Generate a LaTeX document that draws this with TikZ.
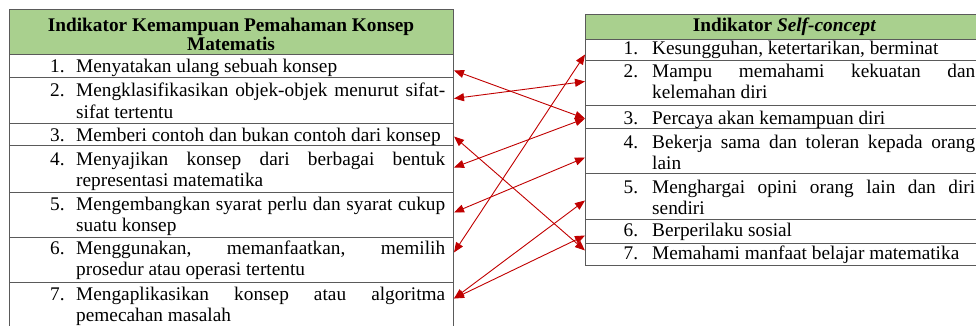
\documentclass[tikz,border=0pt]{standalone}
\usepackage{fontspec}
\setmainfont{Liberation Serif}
\usetikzlibrary{arrows.meta}
\definecolor{hdrgreen}{HTML}{A9D08E}
\definecolor{arrred}{HTML}{C00000}
\definecolor{gridgray}{HTML}{5A5A5A}
\newcommand{\fullln}[1]{\makebox[\linewidth][s]{#1}}
\newcommand{\lastln}[1]{\makebox[\linewidth][l]{#1}}
\tikzset{
  cell/.style={draw=gridgray, line width=1pt, inner sep=0pt, anchor=north west},
  hdrcell/.style={cell, fill=hdrgreen},
  txt/.style={inner sep=0pt, anchor=base west, font=\fontsize{19.3}{21.5}\selectfont},
  hdrtxt/.style={inner sep=0pt, anchor=base, font=\fontsize{19.3}{18.4}\selectfont\bfseries},
  link/.style={draw=arrred, line width=0.9pt,
    {Triangle[length=10pt,width=8pt]}-{Triangle[length=10pt,width=8pt]}},
}
\newcommand{\litem}[2]{\llap{#1.\hspace{11.5pt}}\parbox[t]{369pt}{#2}}
\newcommand{\ritem}[2]{\llap{#1.\hspace{14pt}}\parbox[t]{323pt}{#2}}
\begin{document}
\begin{tikzpicture}[x=1pt,y=-1pt]
\useasboundingbox (0,0) rectangle (976,326);
% left table cells
\node[hdrcell, minimum width=444, minimum height=45] (lh) at (9,9) {};
\node[cell, minimum width=444, minimum height=23] (l1) at (9,54) {};
\node[cell, minimum width=444, minimum height=46] (l2) at (9,77) {};
\node[cell, minimum width=444, minimum height=22] (l3) at (9,123) {};
\node[cell, minimum width=444, minimum height=47] (l4) at (9,145) {};
\node[cell, minimum width=444, minimum height=45] (l5) at (9,192) {};
\node[cell, minimum width=444, minimum height=45] (l6) at (9,237) {};
\node[cell, minimum width=444, minimum height=50] (l7) at (9,282) {};
% right table cells
\node[hdrcell, minimum width=399, minimum height=25] (rh) at (585,14) {};
\node[cell, minimum width=399, minimum height=21] (r1) at (585,39) {};
\node[cell, minimum width=399, minimum height=45] (r2) at (585,60) {};
\node[cell, minimum width=399, minimum height=23] (r3) at (585,105) {};
\node[cell, minimum width=399, minimum height=45] (r4) at (585,128) {};
\node[cell, minimum width=399, minimum height=46] (r5) at (585,173) {};
\node[cell, minimum width=399, minimum height=24] (r6) at (585,219) {};
\node[cell, minimum width=399, minimum height=22] (r7) at (585,243) {};
% headers
\node[hdrtxt] (lht) at (231,31.7) {\parbox[t]{440pt}{\centering Indikator Kemampuan Pemahaman Konsep\\Matematis}};
\node[hdrtxt] (rht) at (784.5,31.7) {Indikator \textit{Self-concept}};
% left texts
\node[txt] (l1t) at (76,73) {\litem{1}{\lastln{Menyatakan ulang sebuah konsep}}};
\node[txt] (l2t) at (76,96.7) {\litem{2}{\fullln{Mengklasifikasikan objek-objek menurut sifat-}\\\lastln{sifat tertentu}}};
\node[txt] (l3t) at (76,141.7) {\litem{3}{\lastln{Memberi contoh dan bukan contoh dari konsep}}};
\node[txt] (l4t) at (76,165) {\litem{4}{\fullln{Menyajikan konsep dari berbagai bentuk}\\\lastln{representasi matematika}}};
\node[txt] (l5t) at (76,210) {\litem{5}{\fullln{Mengembangkan syarat perlu dan syarat cukup}\\\lastln{suatu konsep}}};
\node[txt] (l6t) at (76,254) {\litem{6}{\fullln{Menggunakan, memanfaatkan, memilih}\\\lastln{prosedur atau operasi tertentu}}};
\node[txt] (l7t) at (76,300) {\litem{7}{\fullln{Mengaplikasikan konsep atau algoritma}\\\lastln{pemecahan masalah}}};
% right texts
\node[txt] (r1t) at (652,55) {\ritem{1}{\lastln{Kesungguhan, ketertarikan, berminat}}};
\node[txt] (r2t) at (652,77.3) {\ritem{2}{\fullln{Mampu memahami kekuatan dan}\\\lastln{kelemahan diri}}};
\node[txt] (r3t) at (652,124.5) {\ritem{3}{\lastln{Percaya akan kemampuan diri}}};
\node[txt] (r4t) at (652,148.3) {\ritem{4}{\fullln{Bekerja sama dan toleran kepada orang}\\\lastln{lain}}};
\node[txt] (r5t) at (652,193.3) {\ritem{5}{\fullln{Menghargai opini orang lain dan diri}\\\lastln{sendiri}}};
\node[txt] (r6t) at (652,236.7) {\ritem{6}{\lastln{Berperilaku sosial}}};
\node[txt] (r7t) at (652,259.3) {\ritem{7}{\lastln{Memahami manfaat belajar matematika}}};
% connectors
\draw[link] ([yshift=-4.5pt]l1.east) -- ([yshift=-1.5pt]r3.west);
\draw[link] ([yshift=2pt]l2.east) -- ([yshift=1.5pt]r2.west);
\draw[link] ([yshift=-2pt]l3.east) -- ([yshift=4pt]r7.west);
\draw[link] ([yshift=1.5pt]l4.east) -- ([yshift=-1.5pt]r3.west);
\draw[link] ([yshift=2.5pt]l5.east) -- ([yshift=-6.5pt]r4.west);
\draw[link] ([yshift=7.5pt]l6.east) -- ([yshift=-4.5pt]r1.west);
\draw[link] ([yshift=9pt]l7.east) -- ([yshift=-4pt]r5.west);
\draw[link] ([yshift=9pt]l7.east) -- ([yshift=-4pt]r6.west);
\end{tikzpicture}
\end{document}
